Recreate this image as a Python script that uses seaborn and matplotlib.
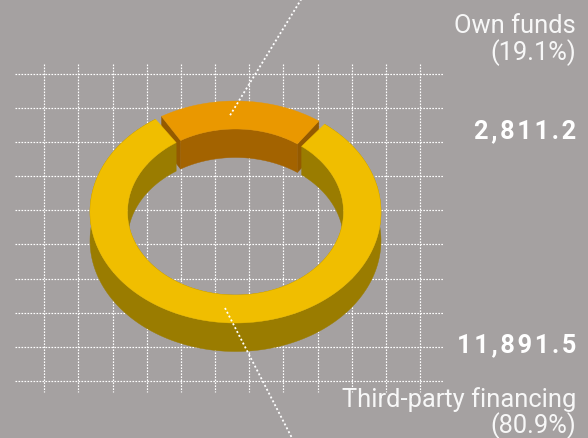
import numpy as np
import matplotlib
matplotlib.use("Agg")
import matplotlib.pyplot as plt
import seaborn as sns

# Financing structure, in millions
sources = ["Own funds", "Third-party financing"]
amounts = [2811.2, 11891.5]
amount_labels = ["2,811.2", "11,891.5"]
share_labels = ["(19.1%)", "(80.9%)"]

BG = "#a5a1a1"
YELLOW = "#f0be00"
YELLOW_DARK = "#9a7c00"
ORANGE = "#ea9800"
ORANGE_DARK = "#a36300"
ORANGE_EDGE = "#945a00"

sns.set_theme(style="white", rc={"figure.facecolor": BG, "axes.facecolor": BG})
plt.rcParams["font.family"] = ["Roboto", "DejaVu Sans"]

fig = plt.figure(figsize=(5.88, 4.38), dpi=100)
ax = fig.add_axes([0, 0, 1, 1])
ax.set_xlim(0, 588)
ax.set_ylim(438, 0)
ax.set_axis_off()

# Dotted backdrop lattice
dots = (0, (1.4, 1.14))
step = 34.15
for y in 73.7 + step * np.arange(10):
    ax.plot([15, 443], [y, y], color="white", lw=0.85, ls=dots, zorder=1)
for x in 44.3 + step * np.arange(12):
    ax.plot([x, x], [64, 392], color="white", lw=0.85, ls=dots, zorder=1)

# Ring geometry
cx, cy = 235.5, 212.0
outer = (145.5, 111.0)
inner = (108.0, 83.0)
depth = 28.5
rotation = 2.2
own_span = 360.0 * amounts[0] / sum(amounts)
own_trim = 1.65
gap = 1.1


def arc(radii, a0, a1, drop=0.0):
    """Points of an elliptical arc; angles run clockwise from twelve o'clock."""
    t = np.radians(np.linspace(a0, a1, 240))
    return cx + radii[0] * np.sin(t), cy - radii[1] * np.cos(t) + drop


def strip(radii, a0, a1, color, z):
    """Vertical wall hanging below an arc."""
    x, y = arc(radii, a0, a1)
    ax.fill(np.r_[x, x[::-1]], np.r_[y, (y + depth)[::-1]], color=color, lw=0.3, zorder=z)


def band(a0, a1, color, z):
    """Flat top surface of a ring sector."""
    xo, yo = arc(outer, a0, a1)
    xi, yi = arc(inner, a0, a1)
    ax.fill(np.r_[xo, xi[::-1]], np.r_[yo, yi[::-1]], color=color, lw=0.3, zorder=z)


def end_face(angle, z):
    """Cut face of the lifted sector."""
    xo, yo = arc(outer, angle, angle)
    xi, yi = arc(inner, angle, angle)
    ax.fill([xo[0], xi[0], xi[0], xo[0]], [yo[0], yi[0], yi[0] + depth, yo[0] + depth],
            color=ORANGE_EDGE, lw=0.3, zorder=z)


half = own_span / 2
o0, o1 = rotation - half + own_trim, rotation + half - own_trim
y0, y1 = rotation + half + gap, rotation - half - gap + 360

# Own-funds sector
end_face(o0, 3)
end_face(o1, 3)
strip(inner, o0, o1, ORANGE_DARK, 4)
band(o0, o1, ORANGE, 5)

# Third-party sector sits in front of the cut faces
strip(outer, y0, y1, YELLOW_DARK, 6)
strip(inner, y0, y1, YELLOW_DARK, 6)
band(y0, y1, YELLOW, 7)

# Leader lines
ax.plot([302, 229], [-2, 117], color="white", lw=1.3, ls=(0, (1.1, 1.3)), zorder=8)
ax.plot([225, 293], [308, 440], color="white", lw=1.3, ls=(0, (1.1, 1.3)), zorder=8)

# Labels
light = dict(color="#f7f7f7", ha="right", fontsize=18.4, fontweight="normal", zorder=9)
bold = dict(color="white", ha="right", fontsize=18.3, fontweight="bold", zorder=9)
hair = "\u200a"
ax.text(576, 33, sources[0], **light)
ax.text(576, 60, share_labels[0], **light)
ax.text(576, 138, hair.join(amount_labels[0]), **bold)
ax.text(576, 352.5, hair.join(amount_labels[1]), **bold)
ax.text(576, 407, sources[1], **light)
ax.text(576, 433, share_labels[1], **light)

fig.savefig("out.png", dpi=100, facecolor=BG)
